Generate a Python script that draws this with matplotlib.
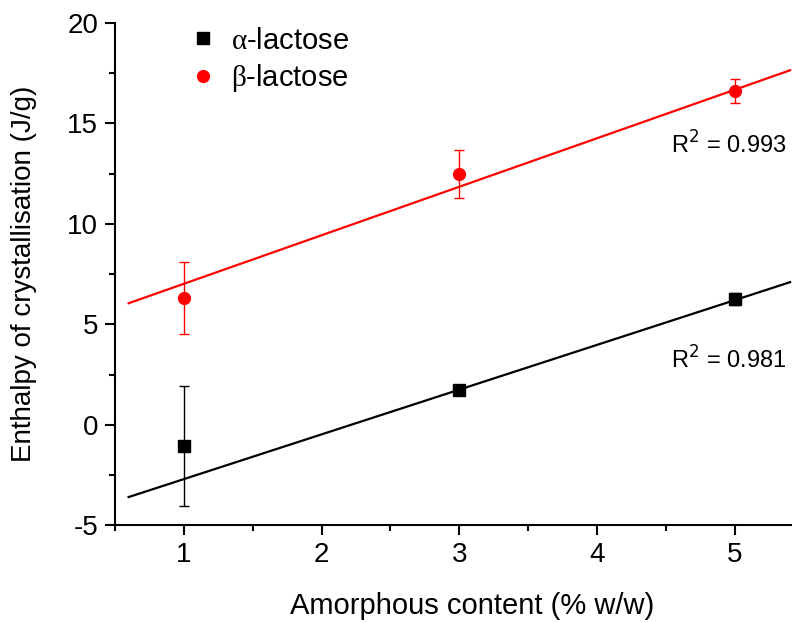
import numpy as np
import matplotlib
matplotlib.use("Agg")
import matplotlib.pyplot as plt
from matplotlib.lines import Line2D

# data
amorphous = [1, 3, 5]
alpha_y = [-1.05, 1.75, 6.25]
alpha_err = [3.0, 0.15, 0.3]
beta_y = [6.3, 12.5, 16.6]
beta_err = [1.8, 1.2, 0.6]

fit_x = [0.6, 5.4]
alpha_fit = [-3.6, 7.1]
beta_fit = [6.05, 17.65]

r2_alpha = "0.981"
r2_beta = "0.993"

plt.rcParams["font.family"] = ["Liberation Sans", "DejaVu Sans"]
plt.rcParams["axes.unicode_minus"] = False
plt.rcParams["mathtext.fontset"] = "custom"
plt.rcParams["mathtext.rm"] = "Liberation Serif"
plt.rcParams["mathtext.it"] = "Liberation Serif"

fig = plt.figure(figsize=(7.92, 6.23), dpi=100)
ax = fig.add_axes([0.145, 0.157, 0.87, 0.806])

ax.plot(fit_x, alpha_fit, color="black", lw=1.6)
ax.plot(fit_x, beta_fit, color="red", lw=1.6)

ax.errorbar(amorphous, alpha_y, yerr=alpha_err, fmt="s", color="black", ms=8,
            elinewidth=1, capsize=3.6, capthick=1)
ax.errorbar(amorphous, beta_y, yerr=beta_err, fmt="o", color="red", ms=8.5,
            elinewidth=1, capsize=3.6, capthick=1)

# R^2 labels sit against the right edge of the figure
fig.text(0.993, 0.767, "R$^2$ = " + r2_beta, ha="right", va="center",
         fontsize=17, math_fontfamily="dejavusans")
fig.text(0.993, 0.422, "R$^2$ = " + r2_alpha, ha="right", va="center",
         fontsize=17, math_fontfamily="dejavusans")

ax.set_xlim(0.5, 5.5)
ax.set_ylim(-5, 20)
ax.set_xticks([1, 2, 3, 4, 5])
ax.set_xticks(np.arange(0.5, 5.6, 0.5), minor=True)
ax.set_yticks([-5, 0, 5, 10, 15, 20])
ax.set_yticks(np.arange(-5, 20.1, 2.5), minor=True)
ax.tick_params(which="major", length=7, width=1.5, labelsize=20, pad=5)
ax.tick_params(which="minor", length=4, width=1.5)

for s in ["top", "right"]:
    ax.spines[s].set_visible(False)
for s in ["left", "bottom"]:
    ax.spines[s].set_linewidth(1.5)

ax.set_xlabel("Amorphous content (% w/w)", fontsize=21)
ax.xaxis.set_label_coords(0.518, -0.133)
ax.set_ylabel("Enthalpy of crystallisation (J/g)", fontsize=20, labelpad=22)

handles = [
    Line2D([], [], ls="none", marker="s", color="black", ms=8),
    Line2D([], [], ls="none", marker="o", color="red", ms=8.5),
]
ax.legend(handles, [r"$\mathrm{\alpha}$-lactose", r"$\mathrm{\beta}$-lactose"],
          loc="upper left", bbox_to_anchor=(0.065, 1.045), frameon=False,
          fontsize=21, handletextpad=0.35, labelspacing=0.25, handlelength=1.2)

fig.savefig("out.png", dpi=100)
